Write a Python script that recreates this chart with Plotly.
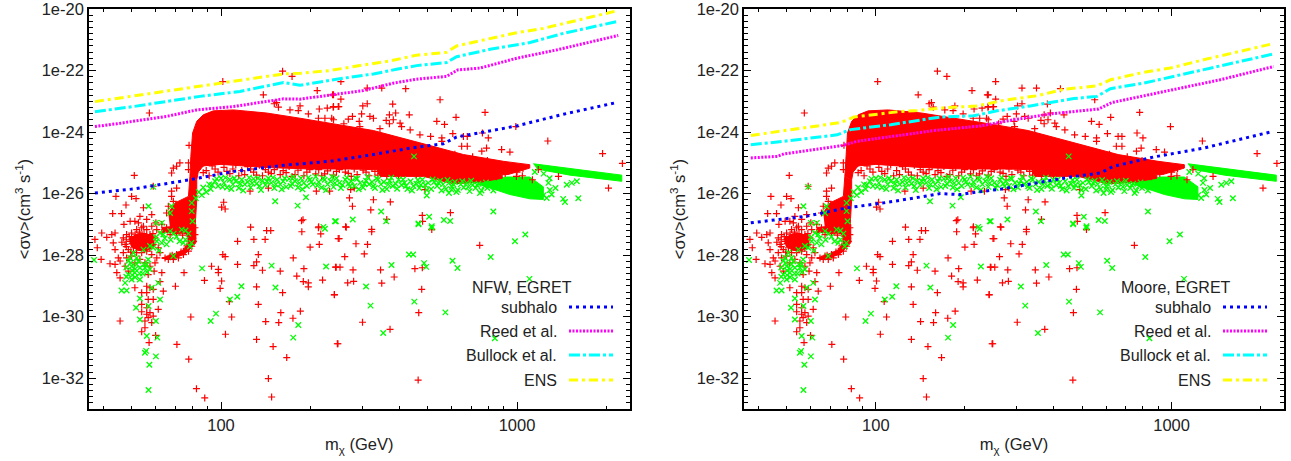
import numpy as np
import plotly.graph_objects as go

# All values are (log10 of m_chi in GeV, log10 of <sigma v> in cm^3 s^-1).
RED_SPARSE = [
(2.006,-22.36),(2.208,-22.02),(2.24,-22.19),(2.325,-22.65),(2.143,-22.79),(2.38,-22.79),(1.758,-23.38),
(2.18,-23.08),(2.194,-23.19),(2.188,-23.04),(2.267,-23.15),(2.261,-23.30),(2.233,-23.28),(2.332,-23.25),
(2.359,-23.22),(2.38,-23.17),(2.396,-23.17),(2.295,-23.41),(2.329,-23.55),(2.351,-23.55),(2.38,-23.6),
(1.892,-24.43),(1.861,-25.0),(1.85,-25.11),(1.839,-25.17),(1.833,-25.33),(1.89,-25.0),(1.89,-25.22),
(1.707,-25.41),(1.771,-25.76),(1.645,-26.09),(1.698,-26.09),(1.713,-26.16),(1.679,-26.37),(1.634,-26.65),
(1.664,-26.65),(1.833,-25.92),(1.833,-26.09),(1.839,-26.25),(1.85,-25.82),(2.009,-26.28),(2.002,-26.44),
(2.014,-26.5),(2.098,-25.92),(2.16,-25.82),(2.322,-25.92),(2.367,-25.92),(2.277,-26.85),(2.272,-26.88),
(2.33,-27.08),
(2.405,-22.36),(2.494,-22.57),(2.543,-22.57),(2.624,-22.59),(2.377,-22.79),(2.405,-22.93),(2.74,-22.95),
(2.58,-23.09),(2.479,-23.15),(2.494,-23.08),(2.379,-23.19),(2.398,-23.17),(2.892,-23.36),(2.794,-23.52),
(2.59,-23.38),(2.569,-23.44),(2.636,-23.44),(2.475,-23.41),(2.444,-23.49),(2.43,-23.58),(2.503,-23.49),
(2.515,-23.55),(2.374,-23.55),(2.558,-23.62),(2.582,-23.6),(2.569,-23.73),(2.605,-23.71),(2.61,-23.82),
(2.639,-23.93),(2.537,-23.89),(2.729,-23.65),(2.755,-23.75),(2.467,-23.65),(2.469,-23.82),(2.415,-23.73),
(2.783,-24.05),(2.672,-24.09),(2.708,-24.14),(2.746,-24.19),(2.746,-24.3),(2.819,-24.14),(2.832,-24.14),
(2.883,-24.03),(2.903,-24.19),(2.897,-24.52),(2.813,-24.46),(2.832,-24.46),(2.881,-24.62),(2.948,-24.57),
(2.976,-24.65),(2.996,-23.82),(3.104,-24.29),(3.289,-24.7),(3.356,-25.02),(3.309,-25.82),(3.14,-25.44),
(2.998,-25.44),(3.018,-25.42),(3.052,-25.55),(3.072,-25.22),
(2.45,-25.82),(2.438,-25.87),(2.434,-26.14),(2.444,-26.41),(2.515,-26.2),(2.506,-26.53),(2.572,-26.27),
(2.689,-25.87),(2.775,-26.62),(2.68,-26.71),(2.681,-26.9),(2.56,-26.84),(2.421,-27.08),(2.509,-27.16),
(1.659,-30.14),(1.875,-28.57),(1.944,-28.82),(1.968,-28.36),(1.991,-28.46),(1.991,-28.57),(2.006,-27.98),
(2.014,-28.05),(2.002,-28.84),(1.997,-29.08),(2.056,-28.3),(2.056,-27.55),(2.111,-28.34),(2.12,-28.22),
(2.126,-27.98),(2.111,-27.49),(2.149,-27.49),(2.154,-27.2),(2.168,-27.2),(2.1,-27.09),(2.273,-27.24),
(2.14,-28.49),(2.2,-28.52),(2.244,-28.09),(2.28,-28.44),(2.256,-28.68),(2.278,-28.86),(2.295,-28.9),
(2.295,-29.03),(2.12,-29.03),(2.208,-29.22),(2.126,-29.6),(1.846,-29.01),(1.898,-30.01),(2.036,-30.01),
(2.028,-29.51),(2.202,-29.87),(2.243,-30.05),(2.268,-29.82),(2.151,-30.16),(2.195,-30.19),(2.015,-30.57),
(1.851,-30.9),(1.891,-31.38),(2.12,-30.74),(2.176,-30.97),(2.222,-31.33),(2.16,-32.01),(2.171,-32.61),
(1.917,-32.34),(1.945,-32.64),(2.301,-27.74),(2.332,-27.65),(2.343,-28.81),(2.383,-29.28),(2.393,-30.88),
(2.389,-28.39),(2.329,-27.11),(2.337,-27.31),(2.396,-27.46),
(2.423,-27.09),(2.509,-27.24),(2.399,-27.46),(2.456,-27.63),(2.495,-27.65),(2.418,-28.05),(2.484,-27.96),
(2.387,-28.39),(2.402,-28.39),(2.446,-28.48),(2.539,-28.48),(2.585,-28.71),(2.543,-28.91),(2.448,-28.85),
(2.428,-28.9),(2.383,-29.29),(2.478,-30.18),(2.395,-30.88),(2.571,-30.41),(2.668,-29.87),(2.678,-29.11),
(2.655,-28.44),(2.68,-28.41),(2.712,-27.17),(2.874,-27.68),(2.666,-32.06),
]

RED_CLUSTER = [
(1.574,-27.49),(1.582,-27.76),(1.595,-28.14),(1.597,-27.28),(1.614,-27.42),(1.625,-28.28),(1.642,-28.3),
(1.631,-27.33),(1.642,-27.28),(1.648,-28.57),(1.659,-28.74),(1.636,-27.6),(1.642,-27.82),(1.653,-28.09),
(1.67,-27.44),(1.681,-27.33),(1.698,-27.28),(1.715,-27.17),(1.732,-27.11),(1.749,-27.17),(1.766,-27.06),
(1.783,-27.17),(1.676,-27.65),(1.693,-27.55),(1.709,-27.49),(1.726,-27.38),(1.743,-27.44),(1.76,-27.33),
(1.777,-27.44),(1.687,-27.82),(1.704,-27.76),(1.721,-27.65),(1.738,-27.6),(1.754,-27.6),(1.771,-27.65),
(1.788,-27.76),(1.67,-27.92),(1.681,-28.09),(1.698,-28.03),(1.715,-27.92),(1.732,-27.92),(1.749,-27.87),
(1.766,-27.98),(1.783,-28.09),(1.659,-28.19),(1.676,-28.36),(1.687,-28.52),(1.777,-28.25),(1.76,-28.36),
(1.743,-28.25),(1.726,-28.14),(1.709,-28.25),(1.794,-27.92),(1.8,-28.57),(1.774,-28.52),(1.754,-28.63),
(1.68,-27.5),(1.69,-27.4),(1.7,-27.62),(1.71,-27.32),(1.72,-27.52),(1.73,-27.75),(1.74,-27.3),(1.75,-27.48),
(1.76,-27.78),(1.77,-27.3),(1.68,-27.72),(1.71,-27.68),(1.725,-27.25),(1.695,-27.9),(1.665,-27.58),
(1.709,-29.06),(1.749,-29.01),(1.76,-29.06),(1.771,-29.11),(1.794,-28.86),(1.805,-29.17),(1.732,-29.22),
(1.749,-29.22),(1.771,-29.44),(1.754,-29.44),(1.732,-29.6),(1.749,-29.71),(1.788,-29.76),(1.732,-29.84),
(1.749,-29.92),(1.76,-29.87),(1.754,-30.03),(1.771,-29.98),(1.743,-30.14),(1.766,-30.19),(1.743,-30.36),
(1.732,-30.49),(1.779,-30.61),(1.757,-30.84),
(1.738,-26.46),(1.726,-26.74),(1.709,-26.9),(1.693,-26.9),(1.672,-27.0),(1.738,-27.06),(1.721,-26.95),
(1.766,-26.68),(1.749,-26.84),(1.816,-26.63),(1.822,-26.41),(1.78,-26.95),(1.8,-27.0),
(1.912,-27.11),(1.912,-27.33),(1.907,-27.55),(1.901,-27.71),(1.89,-27.87),(1.873,-27.98),(1.856,-28.09),
(1.839,-28.14),(1.822,-28.14),(1.811,-28.09),(1.828,-28.03),(1.85,-27.98),(1.873,-27.87),(1.895,-27.55),
(1.901,-27.33),(1.884,-27.28),(1.861,-27.22),(1.839,-27.17),(1.816,-27.11),(1.828,-27.33),(1.845,-28.05),
(1.835,-28.0),(1.865,-27.9),(1.885,-27.7),(1.905,-27.45),(1.8,-27.25),(1.85,-27.3),(1.87,-27.35),
]

RED_HATCH = [
(1.93,-25.1),(1.95,-25.25),(1.97,-25.1),(1.99,-25.3),(2.01,-25.15),(2.03,-25.35),(2.05,-25.05),(2.07,-25.25),
(2.09,-25.12),(2.11,-25.3),(2.13,-25.08),(2.15,-25.22),(2.17,-25.35),(2.19,-25.1),(2.21,-25.25),(2.23,-25.12),
(2.25,-25.38),(2.27,-25.15),(2.29,-25.3),(2.31,-25.1),(2.33,-25.22),(2.35,-25.36),(2.37,-25.15),(2.39,-25.28),
(2.41,-25.12),(2.43,-25.34),(2.45,-25.2),(2.47,-25.1),(2.49,-25.3),(2.51,-25.18),(2.53,-25.4),(2.55,-25.2),
(2.57,-25.35),(2.59,-24.95),(2.62,-25.05),(2.65,-24.85),(2.68,-24.98),(2.7,-24.75),(2.72,-24.9),(2.74,-25.05),
(2.76,-24.8),(2.78,-24.95),(2.8,-25.15),(2.82,-24.88),(2.84,-25.05),(2.86,-25.25),(2.88,-24.95),(2.9,-25.12),
(2.92,-25.3),(2.94,-25.1),(2.96,-25.35),(2.98,-25.22),(3.0,-25.3),(3.02,-25.18),(2.63,-24.72),(2.67,-24.7),
(2.73,-24.68),(2.79,-24.72),(2.85,-24.8),(2.9,-24.92),(2.95,-25.05),(2.69,-25.2),(2.73,-25.25),(2.77,-25.22),
(2.81,-25.3),(2.85,-25.4),(2.89,-25.38),(2.93,-25.45),(1.96,-25.42),(2.06,-25.42),(2.14,-25.42),(2.24,-25.44),
(2.34,-25.42),(2.44,-25.44),
(1.94,-25.32),(1.98,-25.2),(2.02,-25.28),(2.04,-25.2),(2.08,-25.38),(2.1,-25.2),(2.12,-25.4),(2.16,-25.3),
(2.18,-25.22),(2.2,-25.38),(2.22,-25.32),(2.26,-25.24),(2.28,-25.42),(2.3,-25.22),(2.32,-25.36),(2.36,-25.26),
(2.38,-25.4),(2.4,-25.22),(2.42,-25.3),(2.46,-25.38),(2.48,-25.24),(2.5,-25.42),(2.52,-25.28),(2.54,-25.34),
(2.56,-25.44),(2.58,-25.3),(2.6,-25.4),(2.63,-25.3),(2.66,-25.42),
]

GREEN_POINTS = [
(1.936,-28.43),(2.069,-29.01),(2.055,-29.35),(2.03,-29.44),(1.983,-29.9),(1.965,-30.14),(2.171,-28.34),
(2.184,-29.05),(2.261,-30.27),(2.244,-30.68),(2.355,-28.37),(2.351,-27.14),(1.755,-32.38),(1.758,-31.56),
(1.78,-31.29),(1.743,-31.17),(1.747,-31.11),(1.785,-30.68),(1.749,-30.63),(1.78,-30.14),(1.726,-30.09),
(1.713,-29.71),(1.794,-29.44),(1.726,-29.41),(1.755,-29.65),(1.664,-29.15),(1.681,-29.15),(1.766,-29.06),
(1.788,-28.9),(1.571,-28.16),
(1.771,-25.78),(1.755,-26.41),(1.833,-26.41),(1.828,-26.63),(1.901,-26.3),(1.901,-26.57),(1.904,-26.9),
(1.78,-26.95),(1.8,-26.95),(2.183,-26.25),(2.287,-26.12),(2.259,-26.39),(2.385,-26.9),(2.346,-27.08),
(2.652,-24.79),(2.92,-26.58),(3.207,-26.15),(3.156,-26.17),(3.162,-26.27),(2.541,-26.58),(2.388,-26.9),
(2.445,-26.84),(2.558,-26.9),(2.667,-26.97),(2.703,-26.75),(2.712,-27.06),(2.753,-26.86),(2.774,-26.89),
(2.695,-26.06),(2.77,-25.98),(2.779,-25.87),
(3.106,-25.65),(3.111,-25.88),(3.117,-26.03),(3.1,-26.14),(3.168,-25.71),(3.202,-25.6),(3.185,-25.65),
(3.09,-25.35),(3.11,-25.5),(3.06,-25.3),(3.13,-25.82),(3.09,-26.05),(3.075,-25.95),
(3.028,-27.33),(2.993,-27.55),(2.911,-28.06),(3.042,-28.77),(2.635,-27.98),(2.649,-27.98),(2.782,-28.18),
(2.799,-28.42),(2.686,-28.26),(2.693,-28.38),(2.576,-28.32),(2.49,-29.02),(2.505,-29.64),(2.653,-29.51),
(2.758,-29.86),(2.548,-30.53),(2.925,-30.7),(2.712,-27.11),(2.667,-27.0),
]

GREEN_CLUSTER = [
(1.687,-28.19),(1.698,-28.36),(1.687,-28.63),(1.698,-28.79),(1.676,-28.9),(1.715,-28.09),(1.726,-28.41),
(1.726,-28.79),(1.743,-28.41),(1.754,-28.14),(1.76,-28.46),(1.704,-27.92),(1.738,-27.82),(1.783,-27.55),
(1.805,-27.33),(1.828,-27.22),(1.794,-27.28),(1.867,-27.17),(1.873,-27.6),(1.895,-27.71),(1.839,-28.03),
(1.771,-27.76),(1.816,-27.65),(1.709,-28.57),(1.715,-28.3),(1.693,-28.09),(1.70,-28.5),(1.72,-28.2),
(1.735,-28.6),(1.75,-28.3),(1.68,-28.4),(1.71,-28.72),(1.80,-27.6),(1.85,-27.4),(1.89,-27.3),(1.78,-27.42),
(1.83,-27.5),(1.88,-27.5),(1.76,-27.7),(1.79,-27.85),(1.695,-28.25),(1.71,-28.45),(1.725,-28.6),(1.74,-28.3),
(1.68,-28.7),(1.70,-28.65),(1.75,-28.55),(1.81,-27.45),(1.84,-27.3),(1.86,-27.55),(1.88,-27.2),(1.90,-27.6),
]

GREEN_BAND = [
(1.915,-26.15),(1.925,-25.95),(1.935,-26.05),(1.94,-25.8),(1.95,-25.95),(1.96,-25.7),(1.965,-25.85),
(1.98,-25.6),(1.99,-25.75),(2.0,-25.5),(2.01,-25.65),(2.02,-25.8),(2.03,-25.55),(2.04,-25.7),(2.05,-25.6),
(2.06,-25.82),(2.07,-25.55),(2.08,-25.7),(2.09,-25.62),(2.1,-25.8),(2.11,-25.52),(2.12,-25.68),(2.13,-25.75),
(2.14,-25.58),(2.15,-25.72),(2.16,-25.5),(2.17,-25.65),(2.18,-25.82),(2.19,-25.55),(2.2,-25.7),(2.21,-25.6),
(2.22,-25.78),(2.23,-25.52),(2.24,-25.68),(2.25,-25.6),(2.26,-25.8),(2.27,-25.5),(2.28,-25.65),(2.29,-25.75),
(2.3,-25.55),(2.31,-25.7),(2.32,-25.45),(2.33,-25.62),(2.34,-25.8),(2.35,-25.55),(2.36,-25.7),(2.37,-25.6),
(2.38,-25.78),(2.39,-25.5),(2.4,-25.65),(2.41,-25.72),(2.42,-25.55),(2.43,-25.68),(2.44,-25.6),(2.45,-25.75),
(2.46,-25.52),(2.47,-25.65),(2.48,-25.8),(2.49,-25.58),(2.5,-25.7),(2.51,-25.62),(2.52,-25.82),(2.53,-25.55),
(2.54,-25.7),(2.55,-25.62),(2.56,-25.85),(2.57,-25.58),(2.58,-25.75),(2.59,-25.68),(2.6,-25.55),(2.61,-25.72),
(2.62,-25.65),(2.63,-25.85),(2.64,-25.6),(2.65,-25.75),(2.66,-25.68),(2.67,-25.82),(2.68,-25.55),(2.69,-25.72),
(2.7,-25.65),(2.71,-25.85),(2.72,-25.62),(2.73,-25.75),(2.74,-25.58),(2.75,-25.7),(2.76,-25.85),(2.77,-25.65),
(2.78,-25.78),(2.79,-25.62),(2.8,-25.88),(2.81,-25.7),(2.82,-25.8),(2.83,-25.65),(2.84,-25.92),(2.85,-25.72),
(2.86,-25.82),(2.87,-25.68),(2.88,-25.9),(2.89,-25.75),(2.9,-25.82),(2.92,-25.9),
(1.97,-25.72),(1.985,-25.52),(2.005,-25.78),(2.015,-25.48),(2.035,-25.85),(2.045,-25.5),(2.065,-25.68),
(2.075,-25.9),(2.095,-25.48),(2.105,-25.66),(2.125,-25.5),(2.135,-25.88),(2.155,-25.6),(2.175,-25.48),
(2.185,-25.7),(2.205,-25.86),(2.215,-25.5),(2.235,-25.75),(2.245,-25.46),(2.265,-25.66),(2.275,-25.86),
(2.295,-25.48),(2.305,-25.62),(2.325,-25.74),(2.345,-25.5),(2.355,-25.88),(2.375,-25.45),(2.385,-25.66),
(2.405,-25.82),(2.425,-25.48),(2.435,-25.76),(2.455,-25.5),(2.465,-25.86),(2.485,-25.68),(2.495,-25.46),
(2.515,-25.76),(2.525,-25.5),(2.545,-25.88),(2.565,-25.7),(2.575,-25.48),(2.595,-25.84),(2.615,-25.54),
(2.625,-25.75),(2.645,-25.9),(2.665,-25.56),(2.675,-25.72),(2.695,-25.88),(2.715,-25.54),(2.735,-25.66),
(2.745,-25.9),(2.765,-25.56),(2.785,-25.7),(2.795,-25.95),(2.815,-25.6),(2.835,-25.78),(2.845,-25.58),
(2.865,-25.72),(2.875,-25.98),(2.895,-25.64),(2.91,-25.72),
]

# Outlines of the regions where the markers merge into a solid colour.
RED_BAND_M = [1.895,1.898,1.904,1.918,1.94,1.974,2.042,2.154,2.267,2.402,2.515,2.672,2.819,2.954,3.043,
              3.043,2.97,2.9,2.8,2.7,2.6,2.45,2.3,2.15,2.0,1.94,1.923,1.918]
RED_BAND_S = [-25.44,-24.79,-24.03,-23.65,-23.44,-23.31,-23.28,-23.38,-23.55,-23.76,-23.95,-24.35,-24.73,-24.95,-25.06,
              -25.17,-25.38,-25.4,-25.28,-25.22,-25.25,-25.2,-25.2,-25.15,-25.05,-25.1,-25.3,-25.55]
RED_RIDGE_M = [2.515,2.65,2.763,2.875,2.95,2.95,2.875,2.785,2.684,2.537]
RED_RIDGE_S = [-25.0,-25.1,-25.25,-25.3,-25.4,-25.5,-25.63,-25.68,-25.44,-25.44]
RED_BLOB_M = [1.822,1.845,1.89,1.895,1.918,1.918,1.912,1.828]
RED_BLOB_S = [-26.63,-26.3,-26.09,-25.44,-25.55,-26.2,-27.17,-27.17]
RED_CORE_M = [1.69,1.72,1.77,1.775,1.75,1.72,1.695]
RED_CORE_S = [-27.45,-27.3,-27.35,-27.7,-27.85,-27.85,-27.7]
RED_RING_M = [1.80,1.915,1.915,1.88,1.83,1.80,1.83,1.87,1.89,1.885,1.80]
RED_RING_S = [-27.1,-27.0,-27.6,-27.95,-28.15,-28.1,-28.0,-27.85,-27.6,-27.3,-27.25]
GREEN_BLOB_M = [2.875,2.965,3.043,3.089,3.089,3.044,2.976,2.875]
GREEN_BLOB_S = [-25.62,-25.46,-25.46,-25.78,-26.19,-26.17,-26.03,-25.71]
GREEN_TAIL_M = [3.055,3.354,3.354,3.269,3.179,3.067]
GREEN_TAIL_S = [-25.03,-25.4,-25.6,-25.51,-25.4,-25.2]

# Limit curves, NFW panel
NFW_ENS_M = [1.574,1.929,2.154,2.211,2.267,2.368,2.481,2.571,2.661,2.762,2.796,2.909,2.999,3.089,3.202,3.337]
NFW_ENS_S = [-23.01,-22.5,-22.19,-22.11,-22.09,-22.0,-21.82,-21.69,-21.5,-21.41,-21.2,-20.95,-20.77,-20.63,-20.36,-20.06]
NFW_BUL_M = [1.574,1.704,1.929,2.064,2.211,2.267,2.413,2.515,2.593,2.661,2.762,2.796,2.909,3.044,3.157,3.342]
NFW_BUL_S = [-23.34,-23.17,-22.84,-22.68,-22.39,-22.48,-22.25,-22.11,-21.96,-21.84,-21.74,-21.55,-21.31,-21.09,-20.79,-20.4]
NFW_REE_M = [1.574,1.648,1.816,1.918,2.042,2.211,2.267,2.405,2.481,2.582,2.661,2.762,2.8,2.875,2.999,3.134,3.342]
NFW_REE_S = [-23.82,-23.73,-23.49,-23.28,-23.17,-22.92,-22.93,-22.74,-22.65,-22.41,-22.28,-22.19,-21.98,-21.92,-21.6,-21.33,-20.86]
NFW_SUB_M = [1.574,1.704,1.895,2.042,2.211,2.368,2.515,2.639,2.751,2.796,2.999,3.157,3.337]
NFW_SUB_S = [-25.98,-25.85,-25.55,-25.28,-25.08,-24.95,-24.73,-24.52,-24.38,-24.16,-23.8,-23.42,-23.04]

# Limit curves, Moore panel
MOO_ENS_M = [1.577,1.745,1.881,1.926,2.083,2.14,2.218,2.342,2.432,2.545,2.635,2.748,2.793,2.905,2.995,3.108,3.333]
MOO_ENS_S = [-24.11,-23.87,-23.69,-23.51,-23.33,-23.3,-23.22,-23.15,-22.97,-22.82,-22.61,-22.5,-22.3,-22.06,-21.92,-21.65,-21.15]
MOO_BUL_M = [1.577,1.689,1.869,1.914,2.05,2.173,2.218,2.331,2.41,2.522,2.613,2.669,2.748,2.793,2.905,2.995,3.131,3.345]
MOO_BUL_S = [-24.41,-24.3,-24.09,-23.92,-23.76,-23.58,-23.51,-23.47,-23.31,-23.15,-23.01,-22.91,-22.84,-22.59,-22.41,-22.22,-21.92,-21.46]
MOO_REE_M = [1.577,1.667,1.689,1.886,1.937,2.083,2.196,2.354,2.466,2.59,2.68,2.753,2.798,2.905,3.041,3.164,3.345]
MOO_REE_S = [-24.84,-24.79,-24.71,-24.44,-24.3,-24.09,-23.95,-23.8,-23.6,-23.41,-23.33,-23.25,-23.04,-22.82,-22.55,-22.3,-21.87]
MOO_SUB_M = [1.577,1.768,1.903,2.027,2.151,2.218,2.286,2.32,2.432,2.545,2.658,2.759,2.804,2.939,3.108,3.333]
MOO_SUB_S = [-26.95,-26.73,-26.46,-26.3,-26.11,-26.0,-26.03,-25.98,-25.84,-25.65,-25.46,-25.33,-25.11,-24.81,-24.52,-24.0]

LEGEND_NAMES = ["subhalo", "Reed et al.", "Bullock et al.", "ENS"]
LEGEND_TITLES = ["NFW, EGRET", "Moore, EGRET"]
Y_TICKS = [1e-20, 1e-22, 1e-24, 1e-26, 1e-28, 1e-30, 1e-32]
Y_LABELS = ["1e-20", "1e-22", "1e-24", "1e-26", "1e-28", "1e-30", "1e-32"]
X_TICKS = [100, 1000]
X_MINOR = [40, 50, 60, 70, 80, 90, 200, 300, 400, 500, 600, 700, 800, 900, 2000]

W, H = 1291, 461
RED, GREEN = "rgb(255,0,0)", "rgb(0,255,0)"
STYLES = [("rgb(0,0,255)", "3px,4px", 3), ("rgb(255,0,255)", "2px,1.5px", 3),
          ("rgb(0,255,255)", "11px,3px,3px,3px", 3), ("rgb(255,255,0)", "9px,4px,3px,4px", 3)]
FONT = "Liberation Sans, Arial, sans-serif"
Y_MINOR = [10 ** (-20 - 0.2 * k) for k in range(66) if k % 10 != 0]


def up(v):
    return [10 ** a for a in v]


fig = go.Figure()
panels = [("x", "y", (NFW_SUB_M, NFW_SUB_S), (NFW_REE_M, NFW_REE_S), (NFW_BUL_M, NFW_BUL_S), (NFW_ENS_M, NFW_ENS_S)),
          ("x2", "y2", (MOO_SUB_M, MOO_SUB_S), (MOO_REE_M, MOO_REE_S), (MOO_BUL_M, MOO_BUL_S), (MOO_ENS_M, MOO_ENS_S))]
for xa, ya, *curves in panels:
    for mm, ss, c in [(GREEN_BLOB_M, GREEN_BLOB_S, GREEN), (GREEN_TAIL_M, GREEN_TAIL_S, GREEN),
                      (RED_BAND_M, RED_BAND_S, RED), (RED_RIDGE_M, RED_RIDGE_S, RED), (RED_BLOB_M, RED_BLOB_S, RED),
                      (RED_CORE_M, RED_CORE_S, RED), (RED_RING_M, RED_RING_S, RED)]:
        fig.add_trace(go.Scatter(x=up(mm), y=up(ss), mode="lines", fill="toself", fillcolor=c,
                                 line=dict(color=c, width=1), xaxis=xa, yaxis=ya, showlegend=False, hoverinfo="skip"))
    reds = RED_SPARSE + RED_CLUSTER + RED_HATCH
    fig.add_trace(go.Scatter(x=up([p[0] for p in reds]), y=up([p[1] for p in reds]), mode="markers",
                             marker=dict(symbol="cross-thin", size=5, line=dict(color=RED, width=1.2)),
                             xaxis=xa, yaxis=ya, showlegend=False))
    greens = GREEN_POINTS + GREEN_CLUSTER + GREEN_BAND
    fig.add_trace(go.Scatter(x=up([p[0] for p in greens]), y=up([p[1] for p in greens]), mode="markers",
                             marker=dict(symbol="x-thin", size=5.5, line=dict(color=GREEN, width=1.3)),
                             xaxis=xa, yaxis=ya, showlegend=False))
    for (mm, ss), (c, d, w), name in zip(curves, STYLES, LEGEND_NAMES):
        fig.add_trace(go.Scatter(x=up(mm), y=up(ss), mode="lines", name=name,
                                 line=dict(color=c, dash=d, width=w), xaxis=xa, yaxis=ya, showlegend=False))

for suffix, left, right in [("", 89, 629.5), ("2", 744, 1284)]:
    fig.update_layout({
        "xaxis" + suffix: dict(type="log", range=[1.554, 3.38], domain=[left / W, right / W], anchor="y" + suffix,
                               automargin=False, ticklabeloverflow="allow",
                               tickmode="array", tickvals=X_TICKS, ticktext=["100", "1000"], ticks="inside", ticklen=7,
                               tickwidth=1, tickcolor="black", mirror="ticks", showline=True, linecolor="black",
                               linewidth=1.6, showgrid=False, zeroline=False,
                               minor=dict(tickmode="array", tickvals=X_MINOR, ticks="inside", ticklen=3, tickcolor="black",
                                          showgrid=False),
                               title=dict(text="m<sub>χ</sub> (GeV)", standoff=6, font=dict(size=16.5, family=FONT, color="#222")),
                               tickfont=dict(size=16.5, family=FONT, color="#222")),
        "yaxis" + suffix: dict(type="log", range=[-33, -20], domain=[1 - 409 / H, 1 - 9 / H], anchor="x" + suffix,
                               automargin=False, ticklabeloverflow="allow",
                               tickmode="array", tickvals=Y_TICKS, ticktext=Y_LABELS, ticks="inside", ticklen=7,
                               tickwidth=1, tickcolor="black", mirror="ticks", showline=True, linecolor="black",
                               linewidth=1.6, showgrid=False, zeroline=False,
                               minor=dict(tickmode="array", tickvals=Y_MINOR, ticks="inside", ticklen=4, tickcolor="black",
                                          showgrid=False),
                               title=dict(text="<σv>(cm<sup>3</sup> s<sup>-1</sup>)", standoff=7,
                                          font=dict(size=16.5, family=FONT, color="#222")),
                               tickfont=dict(size=16.5, family=FONT, color="#222")),
    })

annotations, shapes = [], []
rows = [307, 331, 355, 380]
for title, lab_end, title_end, s0, s1 in [(LEGEND_TITLES[0], 559, 574, 569, 613), (LEGEND_TITLES[1], 1213, 1233, 1223, 1267)]:
    annotations.append(dict(text=title, xref="paper", yref="paper", x=title_end / W, y=1 - 287 / H, xanchor="right",
                            yanchor="middle", showarrow=False, font=dict(size=16, family=FONT, color="#222")))
    for name, yy, (c, d, w) in zip(LEGEND_NAMES, rows, STYLES):
        annotations.append(dict(text=name, xref="paper", yref="paper", x=lab_end / W, y=1 - yy / H, xanchor="right",
                                yanchor="middle", showarrow=False, font=dict(size=16, family=FONT, color="#222")))
        shapes.append(dict(type="line", xref="paper", yref="paper", x0=s0 / W, x1=s1 / W, y0=1 - yy / H, y1=1 - yy / H,
                           line=dict(color=c, dash=d, width=w)))

fig.update_layout(width=W, height=H, margin=dict(l=0, r=0, t=0, b=0, autoexpand=False), paper_bgcolor="white", plot_bgcolor="white",
                  annotations=annotations, shapes=shapes, showlegend=False)
fig.write_html("out.html", config=dict(displayModeBar=False), post_script="document.body.style.margin='0';")
